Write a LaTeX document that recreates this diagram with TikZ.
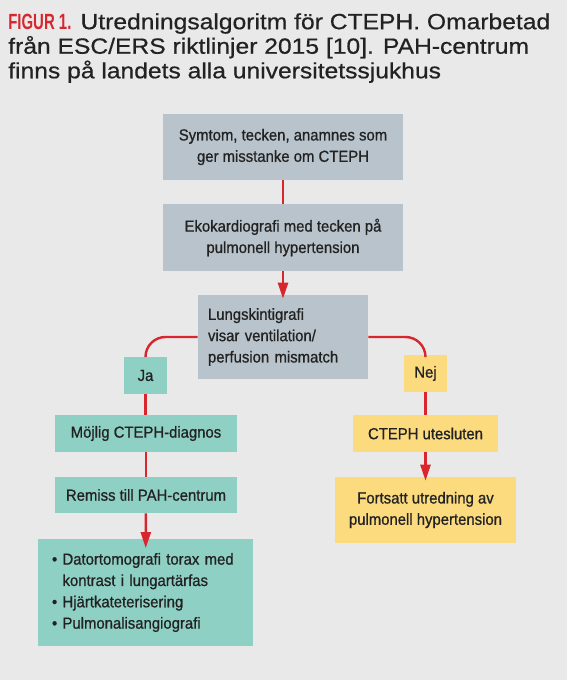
\documentclass[tikz,border=0pt]{standalone}
\usepackage{fontspec}
\setmainfont{Liberation Sans}
\newfontfamily\boxfont[FakeStretch=0.93,FakeBold=0.8]{Liberation Sans}
\newfontfamily\titlefont[FakeStretch=1.12,FakeBold=0.6]{Liberation Sans}
\newfontfamily\figfont[FakeStretch=0.68]{Liberation Sans}
\usetikzlibrary{arrows.meta}
\definecolor{backdrop}{HTML}{E9E9E9}
\definecolor{question}{HTML}{B8C3CB}
\definecolor{positive}{HTML}{8FD0C5}
\definecolor{negative}{HTML}{FCDB7F}
\definecolor{redline}{HTML}{D7262E}
\definecolor{ink}{HTML}{222222}

\begin{document}
\begin{tikzpicture}[x=.75pt,y=-.75pt,
 box/.style={inner sep=0pt,align=center,text=ink,
   font=\boxfont\fontsize{12}{16}\selectfont},
 connector/.style={draw=redline,line width=1.8pt},
 flow/.style={connector,-{Triangle[length=12pt,width=7.5pt]},shorten >=-3pt}]
\path[use as bounding box,fill=backdrop] (0,0) rectangle (567,680);
\node[anchor=north west,inner sep=0pt,align=left,text=ink,
  font=\titlefont\fontsize{16.5}{18.4}\selectfont] (title) at (8,13)
  {{\figfont\bfseries\color{redline}FIGUR 1.} Utredningsalgoritm för CTEPH. Omarbetad\\
   från ESC/ERS riktlinjer 2015 [10]. PAH-centrum\\
   finns på landets alla universitetssjukhus};
% Main column: suspicion, echo and the scan that splits the flow.
\node[box,fill=question,minimum width=180pt,minimum height=49.5pt] (symtom) at (283,147)
  {Symtom, tecken, anamnes som\\ger misstanke om CTEPH};
\node[box,fill=question,minimum width=180pt,minimum height=50.25pt] (eko) at (283,237.5)
  {Ekokardiografi med tecken på\\pulmonell hypertension};
\node[box,fill=question,align=left,text width=112.5pt,inner xsep=7.5pt,
  minimum height=63pt] (lung) at (283,337)
  {Lungskintigrafi\\visar ventilation/\\perfusion mismatch};
\node[box,fill=positive,minimum width=32.25pt,minimum height=27.75pt] (ja) at (145.5,375.5) {Ja};
\node[box,fill=negative,minimum width=32.25pt,minimum height=27.75pt] (nej) at (425.5,373.5) {Nej};
\node[box,fill=positive,minimum width=136.5pt,minimum height=27.75pt] (mojlig) at (146,433.5)
  {Möjlig CTEPH-diagnos};
\node[box,fill=positive,minimum width=136.5pt,minimum height=27pt] (remiss) at (146,495)
  {Remiss till PAH-centrum};
\node[box,fill=positive,align=left,text width=140.25pt,inner xsep=10.5pt,
  minimum height=80.25pt] (undersok) at (145.5,592.5)
  {• Datortomografi torax med\\\phantom{• }kontrast i lungartärfas\\• Hjärtkateterisering\\• Pulmonalisangiografi};
\node[box,fill=negative,minimum width=108.75pt,minimum height=27.75pt] (uteslut) at (425.5,433.5)
  {CTEPH utesluten};
\node[box,fill=negative,minimum width=135.75pt,minimum height=49.5pt] (fortsatt) at (425.5,510)
  {Fortsatt utredning av\\pulmonell hypertension};
\draw[connector] (symtom) -- (eko);
\draw[flow] (eko) -- (lung);
\draw[connector,rounded corners=15pt] (lung.west) -| (ja.north);
\draw[connector,rounded corners=15pt] (lung.east) -| (nej.north);
\draw[connector] (ja) -- (ja |- mojlig.north);
\draw[connector] (mojlig) -- (remiss);
\draw[flow,shorten >=-7pt] (remiss) -- (undersok);
\draw[connector] (nej) -- (uteslut);
\draw[flow] (uteslut) -- (fortsatt);
\end{tikzpicture}
\end{document}
